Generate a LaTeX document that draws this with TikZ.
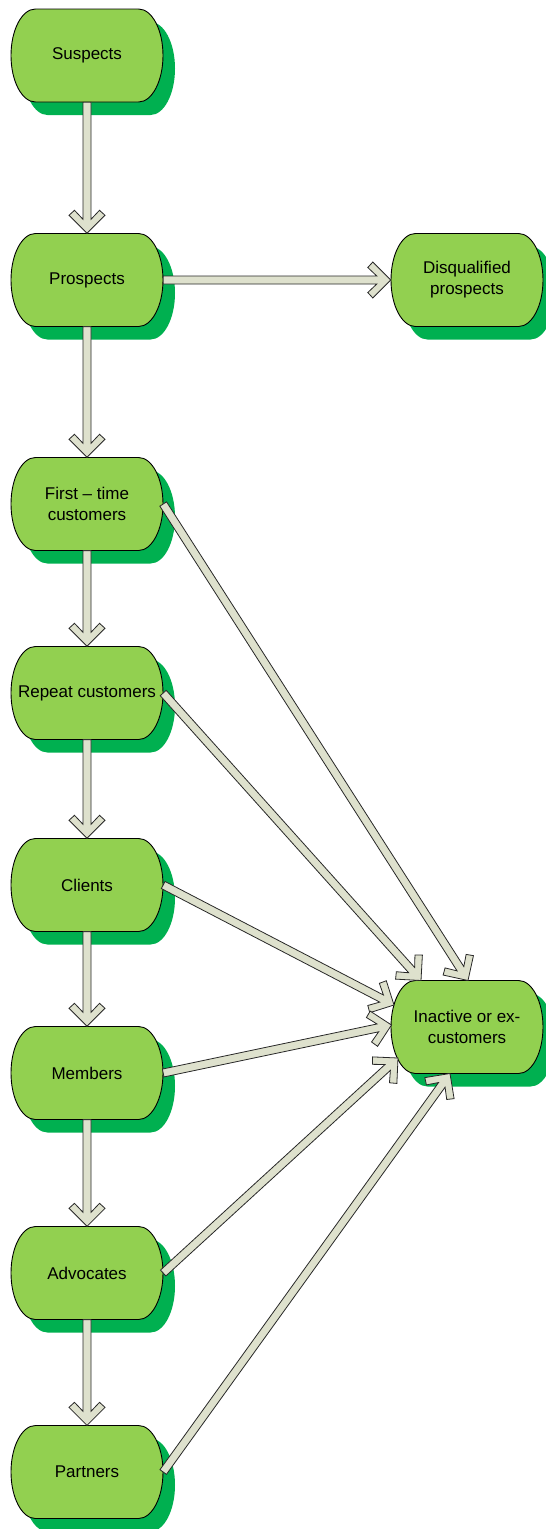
\documentclass[tikz,border=0pt]{standalone}
\usepackage{fontspec}
\setmainfont{Liberation Sans}
\usetikzlibrary{calc}

\definecolor{nodefill}{RGB}{146,208,80}
\definecolor{nodeshadow}{RGB}{0,176,80}
\definecolor{arrowfill}{RGB}{222,225,205}
\definecolor{arrowline}{RGB}{40,40,40}

\tikzset{
  termlabel/.style={rectangle, minimum width=152pt, minimum height=93pt,
    inner sep=0pt, align=center, font=\fontsize{17}{21}\selectfont, text=black},
  termbody/.style={fill=nodefill, draw=black, line width=0.9pt},
  termshadow/.style={fill=nodeshadow},
  flowarrow/.style={fill=arrowfill, draw=arrowline, line width=0.8pt, line join=miter},
}

% terminator outline (flat top and bottom, elliptic ends): x, y, style
\newcommand\termpath[3]{%
  \path[#3] ({#1-51.5},{#2+46.5}) -- ({#1+51.5},{#2+46.5})
    arc[start angle=90, end angle=-90, x radius=24.5, y radius=46.5]
    -- ({#1-51.5},{#2-46.5})
    arc[start angle=270, end angle=90, x radius=24.5, y radius=46.5] -- cycle;}

% one stage: name, x, y, label
\newcommand\stage[4]{%
  \termpath{#2+12}{#3-13}{termshadow}
  \termpath{#2}{#3}{termbody}
  \node[termlabel] (#1) at (#2,#3) {#4};}

% block arrow with a chevron head: start, tip
\newcommand\chev[2]{%
  \path[flowarrow] ($(#1)!4pt!-90:(#2)$)
    -- ($(#2)!14.56pt!15.95:(#1)$)
    -- ($(#2)!26.18pt!28.52:(#1)$)
    -- ($(#2)!25.46pt!45:(#1)$)
    -- (#2)
    -- ($(#2)!25.46pt!-45:(#1)$)
    -- ($(#2)!26.18pt!-28.52:(#1)$)
    -- ($(#2)!14.56pt!-15.95:(#1)$)
    -- ($(#1)!4pt!90:(#2)$) -- cycle;}

\begin{document}
\begin{tikzpicture}[x=1pt, y=1pt]
  \useasboundingbox (0,0) rectangle (546,-1529);
  \fill[white] (0,0) rectangle (546,-1529);

  \stage{sus}{87}{-55.5}{Suspects}
  \stage{pro}{87}{-280}{Prospects}
  \stage{dis}{467}{-280}{Disqualified\\prospects}
  \stage{fir}{87}{-504}{First -- time\\customers}
  \stage{rep}{87}{-693}{Repeat customers}
  \stage{cli}{87}{-885}{Clients}
  \stage{mem}{87}{-1073}{Members}
  \stage{adv}{87}{-1273}{Advocates}
  \stage{par}{87}{-1472}{Partners}
  \stage{ina}{467}{-1027}{Inactive or ex-\\customers}

  % landing points on the inactive stage
  \coordinate (ina-t1) at ($(ina.center)+(1,46.5)$);
  \coordinate (ina-t2) at ($(ina.center)+(-46,46.5)$);
  \coordinate (ina-t3) at ($(ina.center)+(-73,22)$);
  \coordinate (ina-t4) at ($(ina.center)+(-75.5,2)$);
  \coordinate (ina-t5) at ($(ina.center)+(-69,-31)$);
  \coordinate (ina-t6) at ($(ina.center)+(-17,-46.5)$);

  % main funnel
  \chev{sus.south}{pro.north}
  \chev{pro.south}{fir.north}
  \chev{fir.south}{rep.north}
  \chev{rep.south}{cli.north}
  \chev{cli.south}{mem.north}
  \chev{mem.south}{adv.north}
  \chev{adv.south}{par.north}

  % side exits
  \chev{pro.east}{dis.west}
  \chev{fir.east}{ina-t1}
  \chev{rep.east}{ina-t2}
  \chev{cli.east}{ina-t3}
  \chev{mem.east}{ina-t4}
  \chev{adv.east}{ina-t5}
  \chev{par.east}{ina-t6}
\end{tikzpicture}
\end{document}
